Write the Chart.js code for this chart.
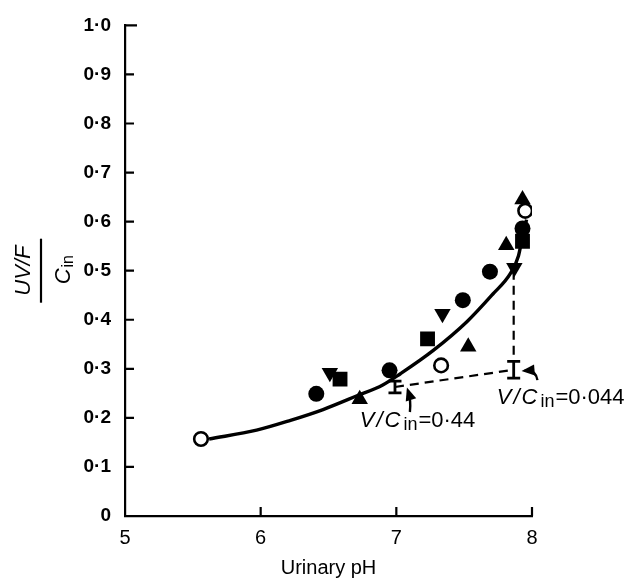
<!DOCTYPE html>
<html>
<head>
<meta charset="utf-8">
<script src="https://cdn.jsdelivr.net/npm/chart.js@4/dist/chart.umd.min.js"></script>
<style>
  html, body { margin: 0; padding: 0; background: #fff; }
  #wrap { width: 627px; height: 580px; }
</style>
</head>
<body>
<div id="wrap"><canvas id="chart" width="627" height="580"></canvas></div>
<script>
// Data (urinary pH vs UV/F / C_in)
const filledCircles = [[6.41, 0.249], [6.95, 0.297], [7.49, 0.440], [7.69, 0.498], [7.93, 0.586]];
const openCircles = [[5.56, 0.157], [7.33, 0.307], [7.95, 0.622]];
const squares = [[6.585, 0.279], [7.23, 0.361], [7.93, 0.560]];
const trianglesUp = [[6.73, 0.238], [7.53, 0.345], [7.81, 0.552], [7.93, 0.645]];
const trianglesDown = [[6.51, 0.292], [7.34, 0.412], [7.87, 0.506]];

// Fitted curve as drawn
const curvePH = [5.62, 5.97, 6.22, 6.46, 6.71, 6.90, 7.03, 7.27, 7.52, 7.71, 7.84, 7.90, 7.93, 7.96];
const curveVal = [0.157, 0.175, 0.195, 0.217, 0.245, 0.267, 0.290, 0.337, 0.396, 0.452, 0.494, 0.530, 0.570, 0.604];

// Predicted values with error bars (V/C_in = 0.44 and 0.044)
const errPH = [6.99, 7.865];
const errMid = [0.263, 0.298];
const errLow = [0.251, 0.281];
const errHigh = [0.275, 0.315];

// vertical dashed drop line
const dropPH = [7.865, 7.865];
const dropVal = [0.50, 0.315];

const xTicks = [5, 6, 7, 8];
const yTicks = [0, 0.1, 0.2, 0.3, 0.4, 0.5, 0.6, 0.7, 0.8, 0.9, 1.0];

const FONT = '"Liberation Sans", Arial, Helvetica, sans-serif';
const toPts = arr => arr.map(p => ({ x: p[0], y: p[1] }));
const zip = (a, b) => a.map((v, i) => ({ x: v, y: b[i] }));
const fmtY = v => {
  const r = Math.round(v * 10) / 10;
  return r === 0 ? '0' : r.toFixed(1).replace('.', '\u00B7');
};

function markerSet(pts, style, radius, opts = {}) {
  return Object.assign({
    type: 'scatter',
    data: toPts(pts),
    pointStyle: style,
    pointRadius: radius,
    pointHoverRadius: radius,
    backgroundColor: '#000',
    borderColor: '#000',
    borderWidth: 0
  }, opts);
}

function drawRich(ctx, parts, x, y) {
  let cx = x;
  parts.forEach(p => {
    ctx.font = p.font;
    ctx.fillText(p.text, cx, y + (p.dy || 0));
    cx += ctx.measureText(p.text).width + (p.gap || 0);
  });
}

function arrow(ctx, x0, y0, qx, qy, x1, y1) {
  ctx.beginPath();
  ctx.moveTo(x0, y0);
  ctx.quadraticCurveTo(qx, qy, x1, y1);
  ctx.stroke();
  const ang = Math.atan2(y1 - qy, x1 - qx);
  const L = 10, W = 5.5;
  ctx.beginPath();
  ctx.moveTo(x1 + Math.cos(ang) * 3, y1 + Math.sin(ang) * 3);
  ctx.lineTo(x1 - Math.cos(ang) * L + Math.sin(ang) * W, y1 - Math.sin(ang) * L - Math.cos(ang) * W);
  ctx.lineTo(x1 - Math.cos(ang) * L - Math.sin(ang) * W, y1 - Math.sin(ang) * L + Math.cos(ang) * W);
  ctx.closePath();
  ctx.fill();
}

const decor = {
  id: 'decor',
  afterDraw(chart) {
    const ctx = chart.ctx;
    const xs = chart.scales.x, ys = chart.scales.y;
    const X = v => xs.getPixelForValue(v), Y = v => ys.getPixelForValue(v);
    const area = chart.chartArea;
    ctx.save();
    ctx.strokeStyle = '#000';
    ctx.fillStyle = '#000';

    // inward tick marks
    ctx.lineWidth = 2.2;
    ctx.beginPath();
    yTicks.forEach(v => {
      if (v === 0) return;
      ctx.moveTo(area.left, Y(v));
      ctx.lineTo(area.left + (v === 1 ? 12 : 9), Y(v));
    });
    xTicks.forEach(v => {
      if (v === 5) return;
      ctx.moveTo(X(v), area.bottom);
      ctx.lineTo(X(v), area.bottom - 9);
    });
    ctx.stroke();

    // error bars
    ctx.lineWidth = 2.8;
    errPH.forEach((p, i) => {
      const px = X(p);
      ctx.beginPath();
      ctx.moveTo(px, Y(errLow[i])); ctx.lineTo(px, Y(errHigh[i]));
      ctx.moveTo(px - 6.5, Y(errLow[i])); ctx.lineTo(px + 6.5, Y(errLow[i]));
      ctx.moveTo(px - 6.5, Y(errHigh[i])); ctx.lineTo(px + 6.5, Y(errHigh[i]));
      ctx.stroke();
    });

    // y-axis title: UV/F over C_in, rotated
    ctx.save();
    ctx.translate(41, Y(0.5));
    ctx.rotate(-Math.PI / 2);
    ctx.lineWidth = 2.2;
    ctx.beginPath();
    ctx.moveTo(-32, 0); ctx.lineTo(32, 0);
    ctx.stroke();
    ctx.textBaseline = 'alphabetic';
    ctx.font = 'italic 22px ' + FONT;
    const t1 = 'UV/F';
    ctx.fillText(t1, -ctx.measureText(t1).width / 2, -11);
    ctx.font = 'italic 22px ' + FONT;
    const cw = ctx.measureText('C').width;
    ctx.font = '16px ' + FONT;
    const iw = ctx.measureText('in').width;
    const sx = -(cw + iw + 1) / 2 + 1;
    drawRich(ctx, [
      { text: 'C', font: 'italic 22px ' + FONT, gap: 1 },
      { text: 'in', font: '16px ' + FONT, dy: 3 }
    ], sx, 29);
    ctx.restore();

    // annotations
    ctx.textBaseline = 'alphabetic';
    const lab = (px, py, val) => drawRich(ctx, [
      { text: 'V', font: 'italic 22px ' + FONT, gap: 2 },
      { text: '/', font: 'italic 22px ' + FONT, gap: 2 },
      { text: 'C', font: 'italic 22px ' + FONT, gap: 3 },
      { text: 'in', font: '18px ' + FONT, dy: 3, gap: 1 },
      { text: '=' + val, font: '22px ' + FONT }
    ], px, py);
    lab(X(6.73), Y(0.181), '0\u00B744');
    lab(X(7.74), Y(0.228), '0\u00B7044');

    // arrows
    ctx.lineWidth = 2.4;
    arrow(ctx, X(7.10), Y(0.212), X(7.11), Y(0.235), X(7.085), Y(0.256));
    arrow(ctx, X(8.04), Y(0.277), X(8.03), Y(0.298), X(7.945), Y(0.296));

    ctx.restore();
  }
};

const chart = new Chart(document.getElementById('chart'), {
  type: 'scatter',
  data: {
    datasets: [
      markerSet(filledCircles, 'circle', 8),
      markerSet(openCircles, 'circle', 6.8, { backgroundColor: '#fff', borderWidth: 2.6 }),
      markerSet(squares, 'rect', 10.5),
      markerSet(trianglesUp, 'triangle', 9.5),
      markerSet(trianglesDown, 'triangle', 9.5, { rotation: 180 }),
      {
        type: 'line',
        data: zip(errPH, errMid),
        borderColor: '#000',
        borderWidth: 2.2,
        borderDash: [9, 6],
        pointRadius: 0,
        fill: false
      },
      {
        type: 'line',
        data: zip(dropPH, dropVal),
        borderColor: '#000',
        borderWidth: 2.2,
        borderDash: [9, 6],
        pointRadius: 0,
        fill: false
      },
      {
        type: 'line',
        data: zip(curvePH, curveVal),
        borderColor: '#000',
        borderWidth: 3.4,
        pointRadius: 0,
        cubicInterpolationMode: 'monotone',
        fill: false
      }
    ]
  },
  options: {
    responsive: false,
    animation: false,
    devicePixelRatio: 1,
    layout: { padding: { left: 0, top: 14, right: 95, bottom: 0 } },
    plugins: { legend: { display: false }, tooltip: { enabled: false } },
    scales: {
      x: {
        type: 'linear',
        min: 5, max: 8,
        afterFit: s => { s.height = 64; },
        afterBuildTicks: s => { s.ticks = xTicks.map(v => ({ value: v })); },
        ticks: {
          color: '#000',
          padding: 10,
          font: { family: FONT, size: 20 },
          callback: v => String(v)
        },
        grid: { display: false, drawTicks: false },
        border: { display: true, color: '#000', width: 2.2 },
        title: {
          display: true,
          text: 'Urinary pH',
          color: '#000',
          font: { family: FONT, size: 20 },
          padding: { top: 2, bottom: 0 }
        }
      },
      y: {
        type: 'linear',
        min: 0, max: 1,
        afterFit: s => { s.width = 125; },
        afterBuildTicks: s => { s.ticks = yTicks.map(v => ({ value: v })); },
        ticks: {
          color: '#000',
          padding: 14,
          font: { family: FONT, size: 19, weight: 'bold' },
          callback: v => fmtY(v)
        },
        grid: { display: false, drawTicks: false },
        border: { display: true, color: '#000', width: 2.2 }
      }
    }
  },
  plugins: [decor]
});
</script>
</body>
</html>
